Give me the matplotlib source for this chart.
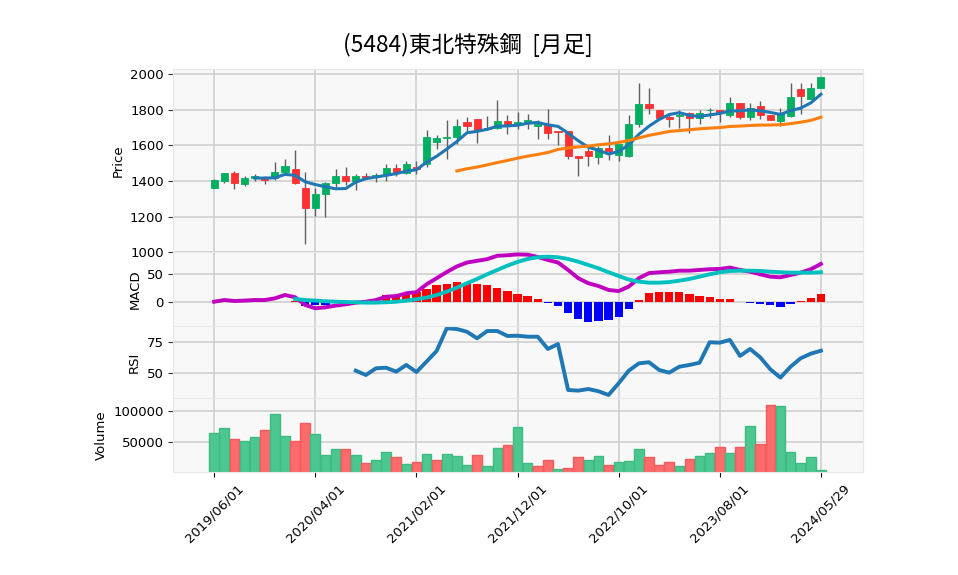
import numpy as np
import pandas as pd
import matplotlib
matplotlib.use('Agg')
import matplotlib.pyplot as plt

title = '(5484)東北特殊鋼  [月足]'
tick_pos = [0, 10, 20, 30, 40, 50, 60]
tick_labels = ['2019/06/01', '2020/04/01', '2021/02/01', '2021/12/01',
               '2022/10/01', '2023/08/01', '2024/05/29']

# monthly OHLC
opens = [1364, 1402, 1447, 1381, 1417, 1423, 1417, 1449, 1468, 1362,
         1247, 1326, 1387, 1428, 1402, 1430, 1425, 1440, 1475, 1447,
         1481, 1496, 1619, 1641, 1647, 1730, 1747, 1691, 1696, 1736,
         1717, 1728, 1709, 1713, 1679, 1679, 1541, 1570, 1534, 1587,
         1547, 1543, 1721, 1832, 1802, 1758, 1768, 1785, 1757, 1798,
         1802, 1770, 1836, 1760, 1819, 1774, 1738, 1768, 1915, 1860, 1921]
highs = [1412, 1447, 1458, 1428, 1440, 1426, 1509, 1524, 1572, 1449,
         1364, 1396, 1468, 1477, 1440, 1443, 1443, 1496, 1494, 1515,
         1515, 1689, 1657, 1745, 1749, 1760, 1747, 1764, 1858, 1774,
         1789, 1775, 1742, 1806, 1679, 1679, 1541, 1585, 1596, 1657,
         1615, 1770, 1949, 1921, 1802, 1779, 1798, 1789, 1798, 1808,
         1802, 1870, 1836, 1841, 1851, 1774, 1808, 1949, 1949, 1949, 1985]
lows = [1362, 1387, 1358, 1372, 1398, 1383, 1406, 1445, 1383, 1045,
        1202, 1198, 1368, 1379, 1349, 1409, 1394, 1402, 1428, 1440,
        1440, 1477, 1581, 1524, 1609, 1675, 1615, 1689, 1690, 1662,
        1694, 1692, 1638, 1638, 1604, 1524, 1430, 1485, 1496, 1519,
        1515, 1534, 1704, 1775, 1755, 1704, 1696, 1670, 1723, 1757,
        1732, 1760, 1747, 1742, 1751, 1743, 1709, 1760, 1779, 1860, 1921]
closes = [1407, 1445, 1387, 1419, 1428, 1406, 1451, 1485, 1392, 1247,
          1328, 1389, 1428, 1398, 1428, 1425, 1436, 1474, 1447, 1496,
          1466, 1645, 1643, 1649, 1708, 1712, 1685, 1700, 1736, 1717,
          1730, 1742, 1721, 1670, 1674, 1540, 1528, 1540, 1585, 1568,
          1609, 1719, 1832, 1813, 1757, 1749, 1770, 1757, 1781, 1802,
          1789, 1841, 1760, 1811, 1774, 1743, 1783, 1870, 1879, 1921, 1985]
volumes = [64500, 72600, 54800, 51600, 58100, 69400, 95200, 59700, 51600, 80700,
           62900, 29000, 38700, 38700, 29000, 16100, 21000, 33900, 25800, 14500,
           17700, 30600, 21000, 30600, 27400, 12900, 29000, 11300, 40300, 45200,
           74200, 16100, 11300, 21000, 6500, 8100, 25800, 21000, 27400, 12900,
           17700, 19400, 38700, 25800, 12900, 17700, 11300, 22600, 27400, 32300,
           41900, 32300, 41900, 75800, 46800, 109700, 108100, 33900, 16100, 25800, 4800]

macd = [1, 4, 2.3, 3, 4, 4, 7, 13, 9, -4.8, -10.7, -9, -6, -3.6, -0.7, 1,
        4, 10, 11, 16, 18, 32, 43, 54, 64, 71, 74, 77, 83, 84, 85.5,
        85, 81, 75.5, 71, 57.7, 43, 34, 29, 22, 20, 28, 43, 52, 53.5, 54.6,
        56.4, 56.4, 57.7, 59, 59.5, 62, 57.7, 54.6, 50, 45.7, 44.6, 48.7, 52.9, 59, 68.4]
signal = [np.nan] * 8 + [
    6, 4, 3, 1.8, 1, 0.5, 0, -0.6, -0.6, 0, 1, 3, 5.4, 8.3, 13, 19, 26, 34,
    41.6, 50, 57.7, 65.4, 72, 77.3, 80.4, 81.4, 80.4, 77.3, 72.5, 66.6, 60.7,
    53.6, 47, 40.4, 36.8, 35, 35, 36, 38.6, 41.6, 45.7, 50, 53.6, 55.9, 56.4,
    56.4, 55.9, 54.6, 53.6, 52.9, 52.9, 52.9, 53.6]
hist = [np.nan] * 8 + [
    3, -6.5, -5, -5, -2, -1, 0.3, 1, 6, 13, 13, 17, 19, 24, 30, 33, 36, 35,
    33, 30, 26, 20, 15, 11.3, 6, -1.2, -6, -20, -29, -34.5, -32.7, -31.5,
    -25.6, -11.3, 4.2, 17.3, 18.5, 18.5, 18.5, 15.5, 11.3, 9.5, 6, 6, 0.5,
    -0.5, -2.4, -5.4, -7.7, -2.4, 2.4, 7.7, 14.9]
rsi = [np.nan] * 14 + [
    52.1, 48.6, 54, 54.5, 51.3, 56.7, 51, 59.4, 68, 86.3, 85.7, 83.5, 78.2,
    84.1, 84.1, 80.1, 80.3, 79.5, 79.5, 69.6, 73.6, 36.5, 36, 37.3, 35.5,
    32.5, 41.9, 52.1, 58, 58.9, 52.7, 50.5, 55.3, 56.7, 58.5, 75, 74.7, 76.9,
    64, 69.6, 62.9, 53.2, 46.5, 55.3, 62.1, 65.8, 68.2]

plt.rcParams['font.family'] = ['DejaVu Sans']
plt.rcParams['font.size'] = 9.5

x = np.arange(len(closes))
o = np.array(opens); c = np.array(closes)
ma5 = pd.Series(closes).rolling(5).mean()
ma25 = pd.Series(closes).rolling(25).mean()

UP, DOWN, WICK = '#00b060', '#fe3032', '#606060'
VUP, VDOWN = '#4dc790', '#fd6b6c'
FACE, GRID = '#f8f8f8', '#d0d0d0'

fig = plt.figure(figsize=(9.58, 5.75), dpi=100)
L, W = 0.1803, 0.7209
ax1 = fig.add_axes([L, 0.5609, W, 0.3186])
ax2 = fig.add_axes([L, 0.4336, W, 0.1273], sharex=ax1)
ax3 = fig.add_axes([L, 0.3073, W, 0.1263], sharex=ax1)
ax4 = fig.add_axes([L, 0.1797, W, 0.1277], sharex=ax1)

for ax in (ax1, ax2, ax3, ax4):
    ax.set_facecolor(FACE)
    ax.grid(True, color=GRID, linewidth=1.2)
    ax.set_axisbelow(True)
    for s in ax.spines.values():
        s.set_color('#e8e8e8')
        s.set_linewidth(0.8)
    ax.tick_params(axis='y', length=3.5, width=0.8, color='#333333', pad=3)
    ax.tick_params(axis='x', length=0)
    ax.set_xticks(tick_pos)

# candles
up = c >= o
body_col = np.where(up, UP, DOWN)
ax1.vlines(x, lows, highs, color=WICK, linewidth=1, zorder=2)
ax1.bar(x, np.maximum(np.abs(c - o), 0.5), bottom=np.minimum(o, c), width=0.7,
        color=body_col, edgecolor=body_col, linewidth=0.6, zorder=3)
ax1.plot(x, ma5, color='#1f77b4', linewidth=2.2, zorder=4)
ax1.plot(x, ma25, color='#ff7f0e', linewidth=2.2, zorder=4)
ax1.set_ylim(999, 2028)
ax1.set_yticks([1000, 1200, 1400, 1600, 1800, 2000])
ax1.set_ylabel('Price')

# MACD
h = np.array(hist)
hcol = np.where(h >= 0, '#ff0000', '#0000ff')
ax2.bar(x, np.nan_to_num(h), width=0.82, color=hcol, zorder=2)
ax2.plot(x, macd, color='#c000c0', linewidth=2.8, zorder=3)
ax2.plot(x, signal, color='#00c0c0', linewidth=2.8, zorder=3)
ax2.set_ylim(-41.8, 88.9)
ax2.set_yticks([0, 50])
ax2.set_ylabel('MACD')

# RSI
ax3.plot(x, rsi, color='#1f77b4', linewidth=2.8)
ax3.set_ylim(29.8, 88.4)
ax3.set_yticks([50, 75])
ax3.set_ylabel('RSI')

# Volume, coloured by close vs previous close
prev = np.concatenate([[opens[0]], c[:-1]])
vup = c >= prev
ax4.bar(x, volumes, width=0.95, color=np.where(vup, VUP, VDOWN),
        edgecolor=np.where(vup, '#3dbb82', '#f55a5c'), linewidth=1, zorder=2)
ax4.set_ylim(2600, 121000)
ax4.set_yticks([50000, 100000])
ax4.set_ylabel('Volume')

for ax in (ax1, ax2, ax3):
    plt.setp(ax.get_xticklabels(), visible=False)
ax4.tick_params(axis='x', length=3.5, width=0.8, color='#111111')
ax4.set_xticklabels(tick_labels, rotation=45, ha='center')
ax1.set_xlim(-4.1, 64.2)

fig.text(468 / 958, 1 - 45 / 575, title, ha='center', va='center', fontsize=16.3,
         family=['Noto Sans CJK JP', 'DejaVu Sans'])

fig.savefig('out.png', dpi=100)
